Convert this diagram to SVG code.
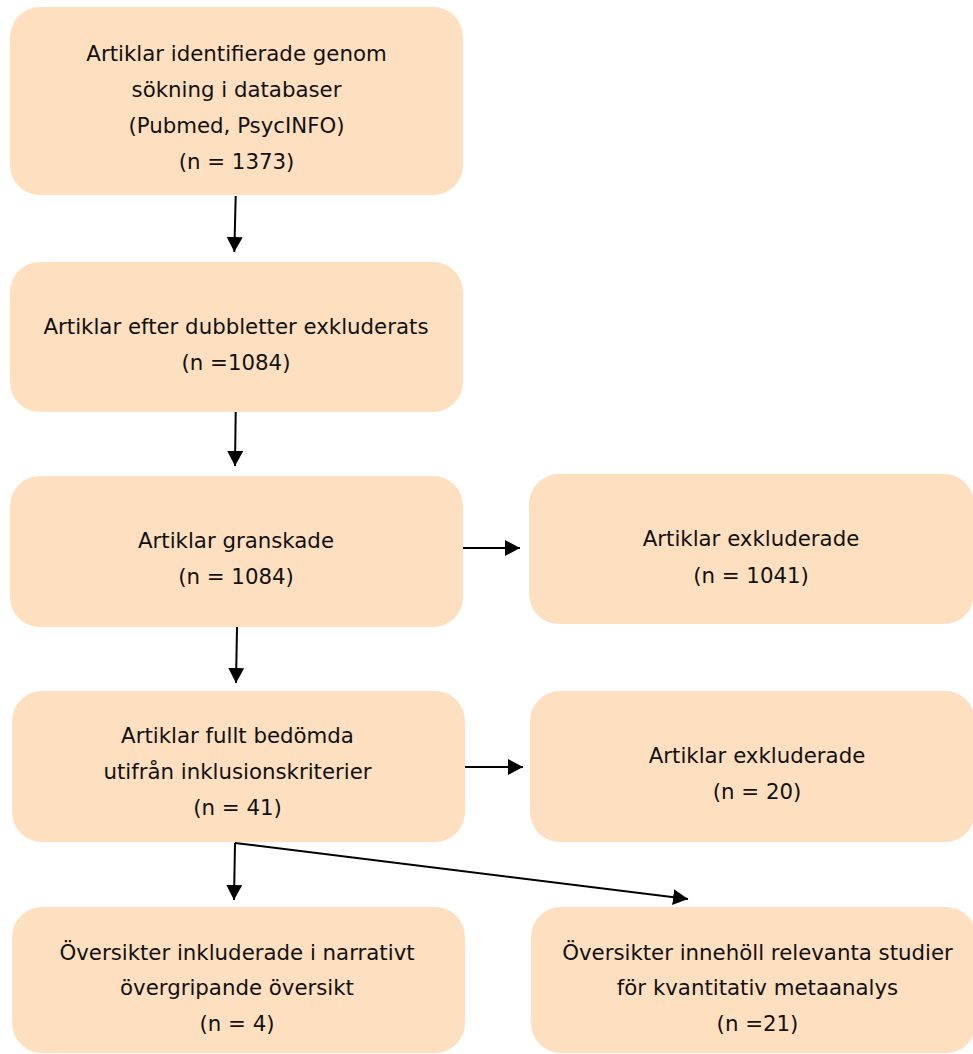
<svg xmlns="http://www.w3.org/2000/svg" width="973" height="1054" viewBox="0 0 973 1054">
<style>
.box{fill:#FEDFC0;stroke:none}
.t{font-family:"DejaVu Sans",Verdana,sans-serif;font-size:21.3px;fill:#111;text-anchor:middle}
.c{stroke:#000;stroke-width:2;fill:none;marker-end:url(#ah)}
</style>
<defs>
<marker id="ah" markerUnits="userSpaceOnUse" markerWidth="16" markerHeight="16" refX="15" refY="8" orient="auto" viewBox="0 0 16 16">
<path d="M0,0 L15,8 L0,16 z" fill="#000"/>
</marker>
</defs>
<rect width="973" height="1054" fill="#fff"/>
<g id="n1"><rect class="box" x="10" y="7" width="453" height="188" rx="30"/>
<text class="t" x="236.5" y="61">Artiklar identifierade genom</text>
<text class="t" x="236.5" y="97">sökning i databaser</text>
<text class="t" x="236.5" y="133">(Pubmed, PsycINFO)</text>
<text class="t" x="236.5" y="168.5">(n = 1373)</text></g>
<g id="n2"><rect class="box" x="10" y="262" width="453" height="150" rx="30"/>
<text class="t" x="236" y="333.5">Artiklar efter dubbletter exkluderats</text>
<text class="t" x="236" y="369.5">(n =1084)</text></g>
<g id="n3"><rect class="box" x="10" y="476" width="453" height="151" rx="30"/>
<text class="t" x="236" y="548">Artiklar granskade</text>
<text class="t" x="236" y="584">(n = 1084)</text></g>
<g id="n4"><rect class="box" x="529" y="474" width="445" height="150" rx="30"/>
<text class="t" x="751" y="546">Artiklar exkluderade</text>
<text class="t" x="751" y="582.5">(n = 1041)</text></g>
<g id="n5"><rect class="box" x="12" y="691" width="453" height="151" rx="30"/>
<text class="t" x="237.5" y="743">Artiklar fullt bedömda</text>
<text class="t" x="237.5" y="779">utifrån inklusionskriterier</text>
<text class="t" x="237.5" y="814.5">(n = 41)</text></g>
<g id="n6"><rect class="box" x="530" y="691" width="445" height="151" rx="30"/>
<text class="t" x="757" y="763">Artiklar exkluderade</text>
<text class="t" x="757" y="799">(n = 20)</text></g>
<g id="n7"><rect class="box" x="12" y="907" width="453" height="146" rx="30"/>
<text class="t" x="237" y="959.5">Översikter inkluderade i narrativt</text>
<text class="t" x="237" y="995">övergripande översikt</text>
<text class="t" x="237" y="1030.5">(n = 4)</text></g>
<g id="n8"><rect class="box" x="531" y="907" width="445" height="146" rx="30"/>
<text class="t" x="757.5" y="959.5">Översikter innehöll relevanta studier</text>
<text class="t" x="757.5" y="995">för kvantitativ metaanalys</text>
<text class="t" x="757.5" y="1030.5">(n =21)</text></g>
<g id="connectors">
<line class="c" x1="235.7" y1="196" x2="234.3" y2="252"/>
<line class="c" x1="235.7" y1="412" x2="235" y2="466"/>
<line class="c" x1="237" y1="627" x2="236" y2="683"/>
<line class="c" x1="463" y1="548" x2="520" y2="548"/>
<line class="c" x1="465" y1="767" x2="523" y2="767"/>
<line class="c" x1="235" y1="843" x2="234" y2="900"/>
<line class="c" x1="235" y1="843" x2="688" y2="899"/>
</g>
</svg>
